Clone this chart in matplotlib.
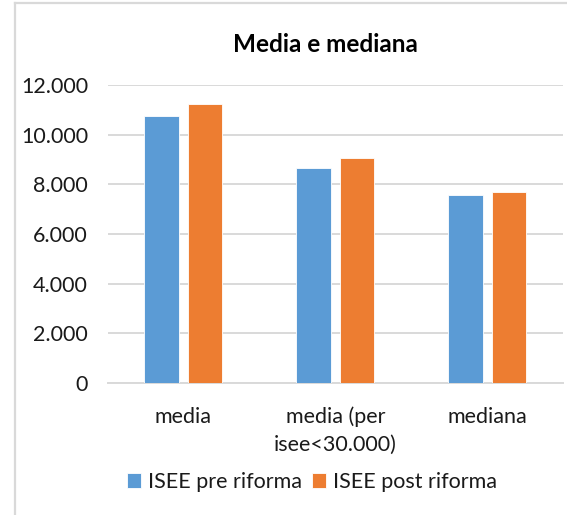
import numpy as np
import matplotlib.pyplot as plt
from matplotlib.ticker import FuncFormatter
from matplotlib.lines import Line2D

plt.rcParams['font.family'] = ['Lato', 'DejaVu Sans']

# dati
categorie = ['media', 'media (per\nisee<30.000)', 'mediana']
isee_pre = [10750, 8660, 7560]
isee_post = [11250, 9070, 7700]
serie = ['ISEE pre riforma', 'ISEE post riforma']

blu = '#5B9BD5'
arancio = '#ED7D31'
grigio = '#D9D9D9'

fig = plt.figure(figsize=(5.67, 5.15), dpi=100)
ax = fig.add_axes([107.5 / 567, 1 - 383 / 515, (563 - 107.5) / 567, (383 - 85) / 515])

x = np.arange(len(categorie))
w = 0.227
off = 0.143
ax.bar(x - off, isee_pre, w, color=blu, edgecolor='white', linewidth=0.6, label=serie[0], zorder=3)
ax.bar(x + off, isee_post, w, color=arancio, edgecolor='white', linewidth=0.6, label=serie[1], zorder=3)

ax.set_xlim(-0.5, 2.5)
ax.set_ylim(0, 12000)
ax.set_yticks(np.arange(0, 12001, 2000))
ax.yaxis.set_major_formatter(FuncFormatter(lambda v, p: f'{v:,.0f}'.replace(',', '.')))
ax.set_xticks(x)
ax.set_xticklabels(categorie, linespacing=1.45)

ax.tick_params(axis='both', length=0, labelsize=15.5, colors='#1a1a1a')
ax.tick_params(axis='y', pad=14)
ax.tick_params(axis='x', pad=17)
ax.grid(axis='y', color=grigio, linewidth=1.4, zorder=0)
for s in ['top', 'right', 'left']:
    ax.spines[s].set_visible(False)
ax.spines['bottom'].set_color(grigio)
ax.spines['bottom'].set_linewidth(1.4)

fig.text(325 / 567, 1 - 45 / 515, 'Media e mediana', ha='center', va='center',
         fontsize=17.5, fontweight='bold', color='black')

fig.legend(loc='center', bbox_to_anchor=(312 / 567, 1 - 482 / 515), ncol=2, frameon=False,
           fontsize=15.5, handlelength=0.65, handleheight=0.65, handletextpad=0.35,
           columnspacing=0.45, labelcolor='#1a1a1a')

# bordo del grafico (solo alto e sinistra visibili)
fig.add_artist(Line2D([15 / 567, 1], [1 - 2.5 / 515, 1 - 2.5 / 515], color=grigio, linewidth=1.6))
fig.add_artist(Line2D([15 / 567, 15 / 567], [0, 1 - 2.5 / 515], color=grigio, linewidth=1.6))

fig.savefig('out.png', dpi=100)
